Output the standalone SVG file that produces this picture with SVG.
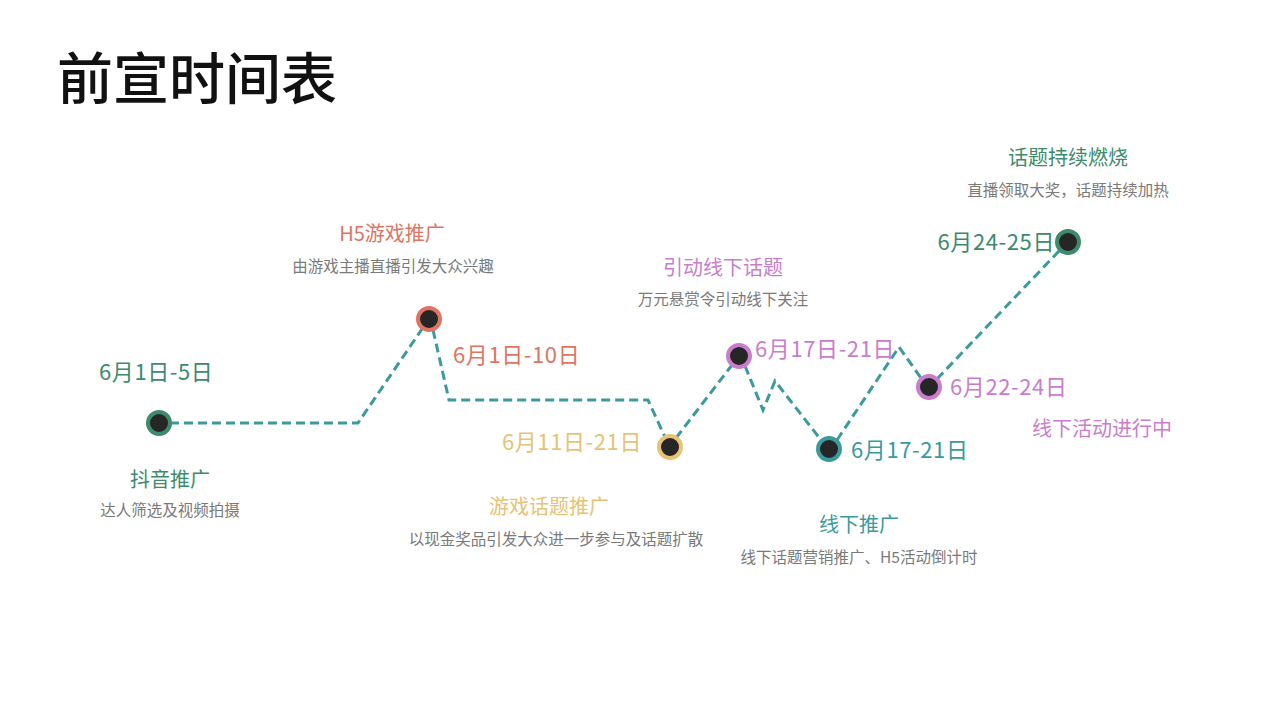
<svg xmlns="http://www.w3.org/2000/svg" width="1280" height="720" viewBox="0 0 1280 720">
<style>
text{font-family:"Noto Sans CJK SC","Noto Sans",sans-serif}
.title{font-size:56px;fill:#111;font-weight:500}
.date{font-size:22px;letter-spacing:0.6px}
.head{font-size:20px}
.desc{font-size:15.5px;fill:#7a7a7a}
.mid{text-anchor:middle}
.end{text-anchor:end}
.g{fill:#3d8a6c}.c{fill:#df7462}.y{fill:#e6c375}.p{fill:#c97dcc}.t{fill:#3a9a9c}
.node{fill:#262626;stroke-width:4}
.line{fill:none;stroke:#3a9a9c;stroke-width:3;stroke-dasharray:9 5}
</style>
<rect width="1280" height="720" fill="#fff"/>
<text class="title" x="57" y="99">前宣时间表</text>
<g id="connectors">
<polyline class="line" points="170,423 358,423 422,329"/>
<polyline class="line" points="433,330 449,400 648,400 665,437"/>
<polyline class="line" points="676,438 732,365"/>
<polyline class="line" points="745,366 763,410 775,381 821,440"/>
<polyline class="line" points="837,440 899,347 921,378"/>
<polyline class="line" points="937,379 1060,250"/>
</g>
<g id="n1">
<circle class="node" cx="159" cy="423" r="11" stroke="#3d8a6c"/>
<text class="date g" x="99" y="380">6月1日-5日</text>
<text class="head g mid" x="170" y="487">抖音推广</text>
<text class="desc mid" x="170" y="516">达人筛选及视频拍摄</text>
</g>
<g id="n2">
<circle class="node" cx="429" cy="319" r="11" stroke="#df7462"/>
<text class="head c mid" x="392" y="241">H5游戏推广</text>
<text class="desc mid" x="393" y="272">由游戏主播直播引发大众兴趣</text>
<text class="date c" x="453" y="363">6月1日-10日</text>
</g>
<g id="n3">
<circle class="node" cx="670" cy="447" r="11" stroke="#e6c375"/>
<text class="date y end" x="642" y="450">6月11日-21日</text>
<text class="head y mid" x="549" y="514">游戏话题推广</text>
<text class="desc mid" x="556" y="545">以现金奖品引发大众进一步参与及话题扩散</text>
</g>
<g id="n4">
<circle class="node" cx="739" cy="356" r="11" stroke="#c97dcc"/>
<text class="head p mid" x="723" y="275">引动线下话题</text>
<text class="desc mid" x="723" y="305">万元悬赏令引动线下关注</text>
<text class="date p" x="755" y="357">6月17日-21日</text>
</g>
<g id="n5">
<circle class="node" cx="829" cy="449" r="11" stroke="#3a9a9c"/>
<text class="date t" x="851" y="458">6月17-21日</text>
<text class="head t mid" x="859" y="532">线下推广</text>
<text class="desc mid" x="859" y="563">线下话题营销推广、H5活动倒计时</text>
</g>
<g id="n6">
<circle class="node" cx="929" cy="387" r="11" stroke="#c97dcc"/>
<text class="date p" x="950" y="395">6月22-24日</text>
<text class="head p mid" x="1102" y="436">线下活动进行中</text>
</g>
<g id="n7">
<circle class="node" cx="1068" cy="242" r="11" stroke="#3d8a6c"/>
<text class="date g end" x="1055" y="250">6月24-25日</text>
<text class="head g mid" x="1068" y="165">话题持续燃烧</text>
<text class="desc mid" x="1068" y="196">直播领取大奖，话题持续加热</text>
</g>
</svg>
